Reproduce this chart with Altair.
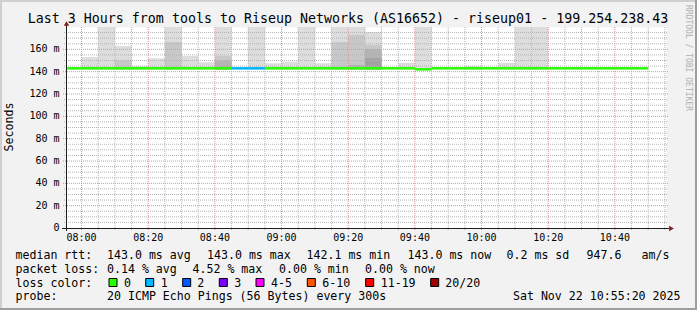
import altair as alt
import pandas as pd

# ---------------- chart values ----------------
TITLE = "Last 3 Hours from tools to Riseup Networks (AS16652) - riseup01 - 199.254.238.43"
Y_TITLE = "Seconds"
WATERMARK = "RRDTOOL / TOBI OETIKER"

# smoke (5-minute bins): start time and top of each grey band, in ms
smoke_start = ["08:00", "08:05", "08:10", "08:15", "08:20", "08:25", "08:30", "08:35", "08:40",
               "08:50", "08:55", "09:00", "09:05", "09:10", "09:15", "09:20", "09:25",
               "09:35", "09:40", "09:55", "10:05", "10:10", "10:15"]
smoke_light = [153, 180, 163, 145, 152, 180, 154, 148.5, 180,
               180, 147.5, 149, 180, 147.5, 180, 180, 175.5,
               148, 180, 145, 148, 180, 180]
smoke_mid = [None, None, 150, None, None, 166.5, None, None, 154,
             None, None, None, None, None, 166.5, 173, 164,
             None, None, None, None, None, None]
smoke_dark = [None, None, None, None, None, None, None, None, 150,
              None, None, None, None, None, None, 146, 160,
              None, None, None, None, None, None]
smoke_darkest = [None, None, None, None, None, None, None, None, 144.5,
                 None, None, None, None, None, None, None, 152,
                 None, None, None, None, None, None]
smoke_floor = 142.0

# median rtt (5-minute bins) and packet-loss class of each bin
median_start = ["07:55", "08:00", "08:05", "08:10", "08:15", "08:20", "08:25", "08:30", "08:35",
                "08:40", "08:45", "08:50", "08:55", "09:00", "09:05", "09:10", "09:15", "09:20",
                "09:25", "09:30", "09:35", "09:40", "09:45", "09:50", "09:55", "10:00", "10:05",
                "10:10", "10:15", "10:20", "10:25", "10:30", "10:35", "10:40", "10:45"]
median_ms = [143.0, 143.0, 143.0, 143.0, 143.0, 143.0, 143.0, 143.0, 143.0,
             143.0, 143.0, 143.0, 143.0, 143.0, 143.0, 143.0, 143.0, 143.0,
             143.0, 143.0, 143.0, 142.1, 143.0, 143.0, 143.0, 143.0, 143.0,
             143.0, 143.0, 143.0, 143.0, 143.0, 143.0, 143.0, 143.0]
median_loss = ["0", "0", "0", "0", "0", "0", "0", "0", "0",
               "0", "1", "1", "0", "0", "0", "0", "0", "0",
               "0", "0", "0", "0", "0", "0", "0", "0", "0",
               "0", "0", "0", "0", "0", "0", "0", "0"]

x_tick_times = ["08:00", "08:20", "08:40", "09:00", "09:20", "09:40", "10:00", "10:20", "10:40"]
y_tick_values = [0, 20, 40, 60, 80, 100, 120, 140, 160]
y_tick_labels = ["0\u00a0\u00a0", "20 m", "40 m", "60 m", "80 m", "100 m", "120 m", "140 m", "160 m"]

loss_cats = ["0", "1", "2", "3", "4-5", "6-10", "11-19", "20/20"]
loss_colors = ["#26ff00", "#00b8ff", "#0059ff", "#7e00ff", "#ff00ff", "#ff5500", "#ff0000", "#a10000"]
band_names = ["light", "mid", "dark", "darkest"]
band_colors = ["#dddddd", "#c8c8c8", "#b4b4b4", "#a2a2a2"]

rtt_label = "median rtt:"
rtt_texts = ["143.0 ms avg", "143.0 ms max", "142.1 ms min", "143.0 ms now", "0.2 ms sd", "947.6", "am/s"]
loss_label = "packet loss:"
loss_texts = ["0.14 % avg", "4.52 % max", "0.00 % min", "0.00 % now"]
color_label = "loss color:"
probe_label = "probe:"
probe_text = "20 ICMP Echo Pings (56 Bytes) every 300s"
date_text = "Sat Nov 22 10:55:20 2025"

# ---------------- layout ----------------
CW, CH = 697, 310
L, T = 66, 27
W, H = 600, 201
X0, X1 = -4 - 2 / 3, 175 + 1 / 3
FONT = "DejaVu Sans Mono"

rtt_x = [107, 207, 306.5, 407.5, 506.5, 586.5, 641.5]
loss_x = [107, 192.5, 279, 365]
box_x = [109, 145.7, 182.7, 219.3, 256, 307.3, 365.7, 430.7]
box_label_x = [124, 160.7, 197.3, 234.3, 271, 322.3, 380.7, 445.3]
row_y = [258.5, 272.5, 286.5, 300.3]


def to_min(s):
    h, m = s.split(":")
    return (int(h) - 8) * 60 + int(m)


xs = alt.Scale(domain=[X0, X1], nice=False, zero=False)
ys = alt.Scale(domain=[0, 180], nice=False, zero=False)
cs = alt.Scale(domain=loss_cats + band_names, range=loss_colors + band_colors)

# smoke rectangles
rows = []
for i, s in enumerate(smoke_start):
    for name, arr in zip(band_names, [smoke_light, smoke_mid, smoke_dark, smoke_darkest]):
        if arr[i] is not None:
            rows.append({"t0": to_min(s), "t1": to_min(s) + 5, "lo": smoke_floor, "hi": arr[i], "band": name})
smoke_df = pd.DataFrame(rows)
smoke = alt.Chart(smoke_df).mark_rect(clip=True).encode(
    x=alt.X("t0:Q", scale=xs, axis=None), x2="t1:Q",
    y=alt.Y("lo:Q", scale=ys, axis=None), y2="hi:Q",
    color=alt.Color("band:N", scale=cs, legend=None),
)

# grid
minor_x = [m for m in range(5, 176, 5) if m % 20 != 0]
major_x = [to_min(t) for t in x_tick_times]
minor_y = [v for v in range(5, 181, 5) if v % 20 != 0]
major_y = y_tick_values[1:]

GRID_MINOR = "#b4b4b4"
GRID_MAJOR = "#eb8c8c"

gx_minor = alt.Chart(pd.DataFrame({"v": minor_x})).mark_rule(
    color=GRID_MINOR, strokeDash=[1, 1], strokeWidth=1).encode(
    x=alt.X("v:Q", scale=xs, axis=None), y=alt.value(0), y2=alt.value(H + 3))
gx_major = alt.Chart(pd.DataFrame({"v": major_x})).mark_rule(
    color=GRID_MAJOR, strokeDash=[1, 1], strokeWidth=1).encode(
    x=alt.X("v:Q", scale=xs, axis=None), y=alt.value(0), y2=alt.value(H + 3))
gy_minor = alt.Chart(pd.DataFrame({"v": minor_y})).mark_rule(
    color=GRID_MINOR, strokeDash=[1, 1], strokeWidth=1).encode(
    y=alt.Y("v:Q", scale=ys, axis=None), x=alt.value(-2), x2=alt.value(W + 2))
gy_major = alt.Chart(pd.DataFrame({"v": major_y})).mark_rule(
    color=GRID_MAJOR, strokeDash=[1, 1], strokeWidth=1).encode(
    y=alt.Y("v:Q", scale=ys, axis=None), x=alt.value(-3), x2=alt.value(W + 2))

# median line
med_df = pd.DataFrame({
    "t0": [to_min(s) for s in median_start],
    "t1": [to_min(s) + 5 for s in median_start],
    "ms": median_ms,
    "loss": median_loss,
})
median = alt.Chart(med_df).mark_rule(strokeWidth=2.5, clip=True).encode(
    x=alt.X("t0:Q", scale=xs, axis=None), x2="t1:Q",
    y=alt.Y("ms:Q", scale=ys, axis=None),
    color=alt.Color("loss:N", scale=cs, legend=None),
)

one = pd.DataFrame({"k": [0]})
# axes
x_axis = alt.Chart(one).mark_rule(color="#1f1f1f", strokeWidth=1).encode(
    x=alt.value(-4), x2=alt.value(W + 3), y=alt.value(H + 0.5))
y_axis = alt.Chart(one).mark_rule(color="#1f1f1f", strokeWidth=1).encode(
    x=alt.value(0.5), y=alt.value(-2), y2=alt.value(H + 3))
x_arrow = alt.Chart(one).mark_point(shape="triangle-right", filled=True, size=30,
                                    color="#801f1f", opacity=1).encode(
    x=alt.value(W + 5.5), y=alt.value(H + 0.5))
y_arrow = alt.Chart(one).mark_point(shape="triangle-up", filled=True, size=30,
                                    color="#801f1f", opacity=1).encode(
    x=alt.value(0.5), y=alt.value(-3.5))

# tick labels
xt_df = pd.DataFrame({"m": major_x, "label": x_tick_times})
x_labels = alt.Chart(xt_df).mark_text(font=FONT, fontSize=10, align="center",
                                      baseline="alphabetic", color="black").encode(
    x=alt.X("m:Q", scale=xs, axis=None), y=alt.value(241 - T), text="label:N")
yt_df = pd.DataFrame({"v": y_tick_values, "label": y_tick_labels})
y_labels = alt.Chart(yt_df).mark_text(font=FONT, fontSize=10, align="right",
                                      baseline="middle", color="black").encode(
    y=alt.Y("v:Q", scale=ys, axis=None), x=alt.value(59.5 - L), text="label:N")

# texts placed in pixels
trows = [{"text": rtt_label, "px": 15.5, "py": row_y[0]}]
trows += [{"text": t, "px": x, "py": row_y[0]} for t, x in zip(rtt_texts, rtt_x)]
trows += [{"text": loss_label, "px": 15.5, "py": row_y[1]}]
trows += [{"text": t, "px": x, "py": row_y[1]} for t, x in zip(loss_texts, loss_x)]
trows += [{"text": color_label, "px": 15.5, "py": row_y[2]}]
trows += [{"text": t, "px": x, "py": row_y[2]} for t, x in zip(loss_cats, box_label_x)]
trows += [{"text": probe_label, "px": 15.5, "py": row_y[3]},
          {"text": probe_text, "px": 107, "py": row_y[3]}]
tdf = pd.DataFrame(trows)
tdf["px"] = tdf["px"] - L
tdf["py"] = tdf["py"] - T
legend_text = alt.Chart(tdf).mark_text(font=FONT, fontSize=11.6, align="left",
                                       baseline="alphabetic", color="black").encode(
    x=alt.X("px:Q", scale=None, axis=None), y=alt.Y("py:Q", scale=None, axis=None), text="text:N")

date = alt.Chart(one).mark_text(font=FONT, fontSize=11.6, align="right",
                                baseline="alphabetic", color="black").encode(
    x=alt.value(680.5 - L), y=alt.value(row_y[3] - T), text=alt.value(date_text))

bdf = pd.DataFrame({"cat": loss_cats, "x0": [b - L for b in box_x],
                    "x1": [b + 8 - L for b in box_x]})
boxes = alt.Chart(bdf).mark_rect(stroke="black", strokeWidth=1).encode(
    x=alt.X("x0:Q", scale=None, axis=None), x2="x1:Q",
    y=alt.value(278.5 - T), y2=alt.value(286.5 - T),
    color=alt.Color("cat:N", scale=cs, legend=None))

title = alt.Chart(one).mark_text(font=FONT, fontSize=13.3, align="center",
                                 baseline="alphabetic", color="black").encode(
    x=alt.value(348 - L), y=alt.value(23 - T), text=alt.value(TITLE))
ytitle = alt.Chart(one).mark_text(font=FONT, fontSize=11.6, align="center",
                                  baseline="middle", angle=270, color="black").encode(
    x=alt.value(10 - L), y=alt.value(127 - T), text=alt.value(Y_TITLE))
watermark = alt.Chart(one).mark_text(font=FONT, fontSize=8, align="left",
                                     baseline="middle", angle=90, color="#b0b0b0").encode(
    x=alt.value(688 - L), y=alt.value(5 - T), text=alt.value(WATERMARK))

# frame shading
def edge(x0, x1, y0, y1, col):
    return alt.Chart(one).mark_rect(color=col).encode(
        x=alt.value(x0 - L), x2=alt.value(x1 - L), y=alt.value(y0 - T), y2=alt.value(y1 - T))

frame = [edge(0, CW, 0, 2, "#cfcfcf"), edge(0, 2, 0, CH, "#cfcfcf"),
         edge(0, CW, CH - 2, CH, "#9e9e9e"), edge(CW - 2, CW, 0, CH, "#9e9e9e")]

chart = alt.layer(
    smoke, gx_minor, gy_minor, gx_major, gy_major, median,
    x_axis, y_axis, x_arrow, y_arrow, x_labels, y_labels,
    legend_text, date, boxes, title, ytitle, watermark, *frame
).properties(
    width=W, height=H,
    autosize=alt.AutoSizeParams(type="none"),
    padding={"left": L, "top": T, "right": CW - L - W, "bottom": CH - T - H},
    background="#f2f2f2",
).configure_view(fill="white", stroke="transparent")

chart.save("out.html", embed_options={"renderer": "svg", "actions": False})
